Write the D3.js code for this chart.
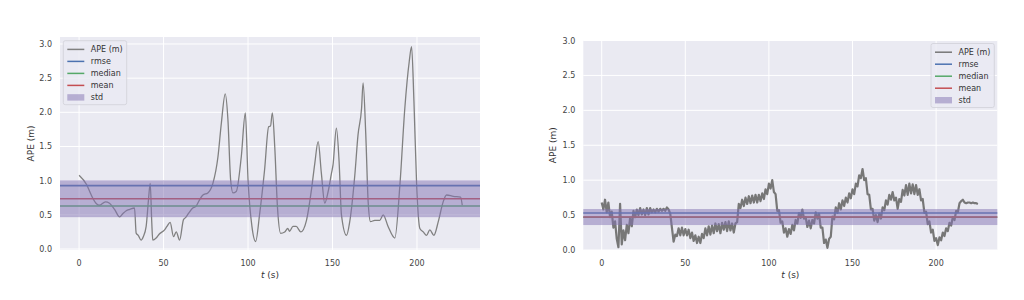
<!DOCTYPE html>
<html>
<head>
<meta charset="utf-8">
<script src="https://d3js.org/d3.v7.min.js"></script>
<style>
  body { margin: 0; background: #ffffff; }
  text { font-family: "DejaVu Sans", sans-serif; }
</style>
</head>
<body>
<div id="chart"></div>
<script>
// left panel: APE over time (smooth trajectory)
var leftT = [0, 4.5, 7, 10, 12, 15.6, 18, 21, 24, 26, 27.9, 30, 32.8, 33.8, 35, 36.7, 38, 39.7, 41, 42.1,
  43, 43.6, 45.6, 47.5, 50.6, 52, 53.9, 55.9, 57.5, 59.5, 61.8, 63, 65, 67.3, 69, 71.3, 73.3, 76.2, 79.2, 82.2,
  84.2, 86.5, 88.1, 89.7, 91.1, 93, 96, 98.4, 100, 102.3, 104.5, 106.9, 109.8, 112.2, 113.3, 114.4, 115.8, 117.4, 119.3, 121.7,
  123.5, 124.6, 126.6, 128.5, 131.2, 134.6, 137.5, 139.5, 141.5, 143.4, 145.4, 147.5, 149.4, 150.3, 152.3, 153.9, 155.3, 158.3, 160.2, 163.2,
  165.1, 167.2, 168.1, 169.7, 171.1, 172.5, 175, 178, 180, 182.9, 186.9, 189.9, 192.8, 195.4, 196.8, 198.2, 199.8, 201.7, 203.7, 205.7,
  207.6, 210, 212.6, 215.5, 217.5, 221.5, 225.8, 226.8];
var leftV = [1.08, 0.94, 0.80, 0.67, 0.64, 0.69, 0.67, 0.58, 0.47, 0.52, 0.56, 0.58, 0.60, 0.23, 0.20, 0.13, 0.18, 0.33, 0.70, 0.96,
  0.40, 0.13, 0.16, 0.22, 0.28, 0.33, 0.39, 0.18, 0.25, 0.13, 0.43, 0.46, 0.53, 0.60, 0.62, 0.72, 0.79, 0.82, 0.96, 1.35,
  1.84, 2.27, 1.89, 1.01, 0.82, 0.84, 1.35, 1.99, 1.01, 0.33, 0.11, 0.52, 1.16, 1.79, 1.80, 1.99, 1.50, 0.62, 0.23, 0.25,
  0.30, 0.26, 0.33, 0.33, 0.25, 0.42, 0.86, 1.25, 1.57, 1.11, 0.67, 0.85, 1.11, 1.23, 1.77, 1.28, 0.50, 0.20, 0.40, 1.08,
  1.67, 2.06, 2.43, 1.67, 0.69, 0.40, 0.42, 0.42, 0.50, 0.33, 0.16, 0.94, 2.06, 2.74, 2.96, 2.16, 0.94, 0.30, 0.25, 0.20,
  0.28, 0.20, 0.40, 0.69, 0.79, 0.77, 0.76, 0.64];
var leftStats = {rmse: 0.927, median: 0.63, mean: 0.736, std: 0.27};

// right panel: APE sampled once per second (noisy trajectory)
var rightV = [0.68, 0.58, 0.72, 0.54, 0.68, 0.47, 0.55, 0.32, 0.41, 0.16,
  0.04, 0.66, 0.08, 0.28, 0.14, 0.36, 0.24, 0.46, 0.34, 0.56,
  0.47, 0.58, 0.50, 0.60, 0.51, 0.58, 0.50, 0.60, 0.51, 0.60,
  0.54, 0.58, 0.54, 0.59, 0.55, 0.59, 0.56, 0.59, 0.56, 0.61,
  0.58, 0.52, 0.32, 0.12, 0.22, 0.20, 0.31, 0.21, 0.32, 0.21,
  0.30, 0.21, 0.29, 0.17, 0.25, 0.13, 0.21, 0.10, 0.19, 0.10,
  0.23, 0.17, 0.31, 0.21, 0.34, 0.22, 0.35, 0.24, 0.38, 0.27,
  0.37, 0.24, 0.39, 0.29, 0.40, 0.27, 0.41, 0.28, 0.38, 0.25,
  0.38, 0.40, 0.66, 0.60, 0.72, 0.63, 0.75, 0.66, 0.77, 0.67,
  0.78, 0.68, 0.79, 0.68, 0.79, 0.70, 0.81, 0.73, 0.87, 0.80,
  0.95, 0.88, 1.00, 0.83, 0.80, 0.56, 0.57, 0.39, 0.41, 0.25,
  0.31, 0.19, 0.30, 0.23, 0.36, 0.28, 0.43, 0.38, 0.53, 0.46,
  0.58, 0.45, 0.47, 0.33, 0.42, 0.31, 0.43, 0.38, 0.54, 0.45,
  0.52, 0.32, 0.32, 0.10, 0.15, 0.03, 0.16, 0.19, 0.48, 0.44,
  0.61, 0.53, 0.67, 0.58, 0.71, 0.63, 0.75, 0.68, 0.81, 0.74,
  0.87, 0.80, 0.95, 0.91, 1.07, 1.03, 1.16, 1.00, 1.03, 0.80,
  0.79, 0.58, 0.59, 0.42, 0.50, 0.40, 0.52, 0.45, 0.61, 0.57,
  0.71, 0.65, 0.79, 0.72, 0.83, 0.71, 0.75, 0.59, 0.73, 0.69,
  0.86, 0.78, 0.93, 0.79, 0.95, 0.81, 0.94, 0.80, 0.93, 0.79,
  0.87, 0.71, 0.73, 0.53, 0.55, 0.37, 0.41, 0.25, 0.29, 0.13,
  0.17, 0.07, 0.18, 0.14, 0.25, 0.20, 0.31, 0.27, 0.39, 0.35,
  0.47, 0.43, 0.56, 0.54, 0.67, 0.70, 0.72, 0.68, 0.67, 0.68,
  0.68, 0.67, 0.68, 0.67, 0.67, 0.66];
var rightT = rightV.map(function (d, i) { return i; });
var rightStats = {rmse: 0.53, median: 0.468, mean: 0.472, std: 0.1145};

var xTicks = [0, 50, 100, 150, 200];
var yTicks = [0, 0.5, 1.0, 1.5, 2.0, 2.5, 3.0];
var legendLabels = ["APE (m)", "rmse", "median", "mean", "std"];

var colors = {ape: "#808080", rmse: "#4C72B0", median: "#55A868", mean: "#C44E52", std: "#8172B2"};

var svg = d3.select("#chart").append("svg")
  .attr("width", 1024).attr("height", 300);

function drawPanel(p) {
  var x = d3.scaleLinear().domain(p.xdom).range([p.left, p.right]);
  var y = d3.scaleLinear().domain(p.ydom).range([p.bottom, p.top]);
  var g = svg.append("g");

  g.append("rect")
    .attr("x", p.left).attr("y", p.top)
    .attr("width", p.right - p.left).attr("height", p.bottom - p.top)
    .attr("fill", "#EAEAF2");

  // grid
  g.selectAll(".gx").data(xTicks).enter().append("line")
    .attr("x1", function (d) { return x(d); }).attr("x2", function (d) { return x(d); })
    .attr("y1", p.top).attr("y2", p.bottom)
    .attr("stroke", "#fff").attr("stroke-width", 1);
  g.selectAll(".gy").data(yTicks).enter().append("line")
    .attr("y1", function (d) { return y(d); }).attr("y2", function (d) { return y(d); })
    .attr("x1", p.left).attr("x2", p.right)
    .attr("stroke", "#fff").attr("stroke-width", 1);

  var line = d3.line()
    .x(function (d) { return x(d[0]); })
    .y(function (d) { return y(d[1]); })
    .curve(p.smooth ? d3.curveMonotoneX : d3.curveLinear);

  g.append("path")
    .datum(p.t.map(function (d, i) { return [d, p.v[i]]; }))
    .attr("d", line)
    .attr("fill", "none")
    .attr("stroke", p.apeColor)
    .attr("stroke-width", p.apeWidth)
    .attr("stroke-linejoin", "round");

  ["rmse", "median", "mean"].forEach(function (k) {
    g.append("line")
      .attr("x1", p.left).attr("x2", p.right)
      .attr("y1", y(p.stats[k])).attr("y2", y(p.stats[k]))
      .attr("stroke", colors[k]).attr("stroke-width", 1.6);
  });

  g.append("rect")
    .attr("x", p.left).attr("width", p.right - p.left)
    .attr("y", y(p.stats.mean + p.stats.std))
    .attr("height", y(p.stats.mean - p.stats.std) - y(p.stats.mean + p.stats.std))
    .attr("fill", colors.std).attr("opacity", 0.5);

  // tick labels
  g.selectAll(".tx").data(xTicks).enter().append("text")
    .attr("x", function (d) { return x(d); })
    .attr("y", p.bottom + 16)
    .attr("text-anchor", "middle")
    .attr("font-size", "8px").attr("fill", "#444")
    .text(function (d) { return d; });
  g.selectAll(".ty").data(yTicks).enter().append("text")
    .attr("x", p.left - 8)
    .attr("y", function (d) { return y(d) + 3; })
    .attr("text-anchor", "end")
    .attr("font-size", "8px").attr("fill", "#444")
    .text(function (d) { return d.toFixed(1); });

  // axis labels
  var xl = g.append("text")
    .attr("x", (p.left + p.right) / 2).attr("y", p.bottom + 28)
    .attr("text-anchor", "middle")
    .attr("font-size", "9px").attr("fill", "#333");
  xl.append("tspan").attr("font-style", "italic").text("t");
  xl.append("tspan").text(" (s)");

  g.append("text")
    .attr("transform", "translate(" + p.ylabX + "," + ((p.top + p.bottom) / 2) + ") rotate(-90)")
    .attr("text-anchor", "middle")
    .attr("font-size", "9px").attr("fill", "#333")
    .text("APE (m)");

  // legend
  var lg = g.append("g");
  lg.append("rect")
    .attr("x", p.legX).attr("y", p.legY)
    .attr("width", p.legW).attr("height", 64)
    .attr("rx", 2)
    .attr("fill", "#EAEAF2").attr("fill-opacity", 0.8)
    .attr("stroke", "#d0d0d8").attr("stroke-width", 0.8);
  var keys = ["ape", "rmse", "median", "mean", "std"];
  legendLabels.forEach(function (lab, i) {
    var ry = p.legY + 8.7 + i * 12;
    if (keys[i] === "std") {
      lg.append("rect")
        .attr("x", p.legX + 4).attr("y", ry - 3.2)
        .attr("width", 17).attr("height", 6.4)
        .attr("fill", colors.std).attr("opacity", 0.5);
    } else {
      lg.append("line")
        .attr("x1", p.legX + 4).attr("x2", p.legX + 21)
        .attr("y1", ry).attr("y2", ry)
        .attr("stroke", keys[i] === "ape" ? p.apeColor : colors[keys[i]]).attr("stroke-width", 1.5);
    }
    lg.append("text")
      .attr("x", p.legX + 27.5).attr("y", ry + 3)
      .attr("font-size", "8px").attr("fill", "#333")
      .text(lab);
  });
}

drawPanel({
  left: 60, right: 480, top: 37, bottom: 250,
  xdom: [-11.3, 237.3], ydom: [-0.0146, 3.102],
  t: leftT, v: leftV, stats: leftStats, smooth: true, apeWidth: 1.3, apeColor: "#808080",
  ylabX: 34, legX: 63.3, legY: 40.7, legW: 63.4
});

drawPanel({
  left: 583.3, right: 997.3, top: 40.5, bottom: 250,
  xdom: [-11.0, 236.6], ydom: [0, 3],
  t: rightT, v: rightV, stats: rightStats, smooth: false, apeWidth: 2.2, apeColor: "#777777",
  ylabX: 556, legX: 931, legY: 43.5, legW: 63.3
});
</script>
</body>
</html>
